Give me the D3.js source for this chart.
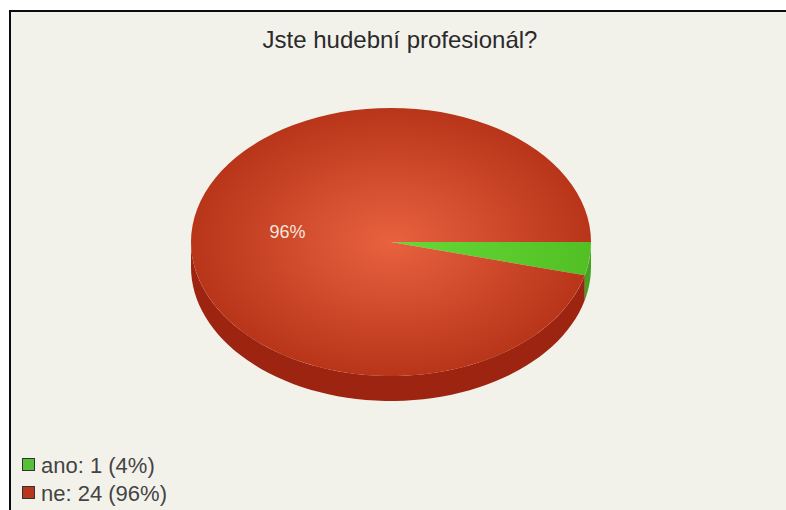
<!DOCTYPE html>
<html>
<head>
<meta charset="utf-8">
<script src="https://cdn.jsdelivr.net/npm/d3@7"></script>
<style>
html, body { margin: 0; padding: 0; background: #fff; }
svg { display: block; }
text { font-family: "Liberation Sans", Arial, sans-serif; }
</style>
</head>
<body>
<svg id="chart" width="786" height="510"></svg>
<script>
const categories = ["ano", "ne"];
const counts = [1, 24];
const percentLabels = ["4%", "96%"];
const chartTitle = "Jste hudební profesionál?";

const wallColors = ["#46a322", "#9c2410"];
const legendFills = ["#55c038", "#b8361c"];

const width = 786, height = 510;
const cx = 391, cy = 242, rx = 200, ry = 134, depth = 25;

const svg = d3.select("#chart");
const defs = svg.append("defs");

// Radial shading of the pie's top face, lighter towards the middle.
function addShade(id, inner, outer) {
  const g = defs.append("radialGradient").attr("id", id)
    .attr("gradientUnits", "userSpaceOnUse")
    .attr("cx", 0).attr("cy", 0).attr("r", rx);
  g.append("stop").attr("offset", "0%").attr("stop-color", inner);
  g.append("stop").attr("offset", "100%").attr("stop-color", outer);
}
addShade("shade-ano", "#66d93a", "#52c024");
addShade("shade-ne", "#e8623f", "#b9351a");

// Panel with its top and left rule.
svg.append("rect").attr("width", width).attr("height", height).attr("fill", "#ffffff");
svg.append("rect").attr("x", 10).attr("y", 11).attr("width", width - 10).attr("height", height - 11)
  .attr("fill", "#f3f2ea");
svg.append("path").attr("d", d3.line()([[10, height], [10, 11], [width, 11]]))
  .attr("fill", "none").attr("stroke", "#0c0c0c").attr("stroke-width", 2);

svg.append("text").attr("x", 400).attr("y", 48).attr("text-anchor", "middle")
  .attr("font-size", 24).attr("fill", "#2a2a2a").text(chartTitle);

const pieData = d3.pie().sort(null)
  .startAngle(Math.PI / 2).endAngle(Math.PI / 2 + 2 * Math.PI)(counts);

// Outer wall: visible only where the rim faces the viewer.
const rim = a => [cx + rx * Math.sin(a), cy - ry * Math.cos(a)];
const frontStart = Math.PI / 2, frontEnd = 3 * Math.PI / 2;
pieData.forEach((d, i) => {
  const a0 = Math.max(d.startAngle, frontStart), a1 = Math.min(d.endAngle, frontEnd);
  if (a1 <= a0) return;
  const steps = d3.range(0, 61).map(t => a0 + (a1 - a0) * t / 60);
  const upper = steps.map(rim);
  const lower = steps.slice().reverse().map(a => { const p = rim(a); return [p[0], p[1] + depth]; });
  svg.append("path").attr("d", d3.line()(upper.concat(lower)) + "Z")
    .attr("fill", wallColors[i]);
});

// Top face, drawn on a unit-aspect circle and squashed into an ellipse.
const arc = d3.arc().innerRadius(0).outerRadius(rx);
const face = svg.append("g").attr("transform", `translate(${cx},${cy}) scale(1,${ry / rx})`);
face.selectAll("path").data(pieData).join("path")
  .attr("d", arc)
  .attr("fill", (d, i) => `url(#shade-${categories[i]})`);

// Percent label on the large slice.
svg.append("text").attr("x", 287.5).attr("y", 238).attr("text-anchor", "middle")
  .attr("font-size", 18).attr("fill", "#f4e6dc").text(percentLabels[1]);

// Legend
const legendY = d3.scalePoint().domain(categories).range([465, 493]);
const legend = svg.selectAll("g.legend-item").data(categories).join("g")
  .attr("class", "legend-item")
  .attr("transform", d => `translate(22,${legendY(d)})`);
legend.append("rect").attr("x", 0.5).attr("y", -6.5).attr("width", 12).attr("height", 12)
  .attr("fill", (d, i) => legendFills[i]).attr("stroke", "#333").attr("stroke-width", 1);
legend.append("text").attr("x", 19).attr("y", 8)
  .attr("font-size", 22).attr("fill", "#444")
  .text((d, i) => `${d}: ${counts[i]} (${percentLabels[i]})`);
</script>
</body>
</html>
